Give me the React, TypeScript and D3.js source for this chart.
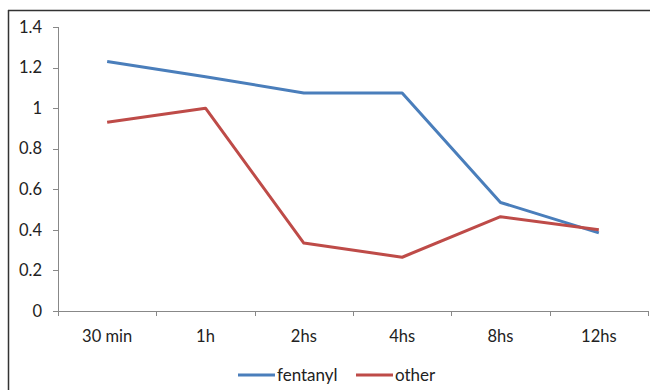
import React from "react";
import * as d3 from "d3";

const categories = ["30 min", "1h", "2hs", "4hs", "8hs", "12hs"];
const fentanyl = [1.23, 1.155, 1.075, 1.075, 0.535, 0.385];
const other = [0.93, 1.0, 0.335, 0.265, 0.465, 0.4];
const yTicks = [0, 0.2, 0.4, 0.6, 0.8, 1, 1.2, 1.4];

const series = [
  { name: "fentanyl", values: fentanyl, color: "#4A7EBB" },
  { name: "other", values: other, color: "#BE4B48" },
];

const W = 650;
const H = 390;
const plot = { left: 58, right: 648, top: 27, bottom: 311 };
const font = "Lato, 'Open Sans', sans-serif";
const fontSize = 16.5;

export default function App() {
  const x = d3
    .scaleBand<string>()
    .domain(categories)
    .range([plot.left, plot.right])
    .paddingInner(0)
    .paddingOuter(0);
  const y = d3.scaleLinear().domain([0, 1.4]).range([plot.bottom, plot.top]);

  const line = d3
    .line<number>()
    .x((_, i) => (x(categories[i]) as number) + x.bandwidth() / 2)
    .y((v) => y(v));

  const boundaries = categories.map((c) => x(c) as number).concat([plot.right]);

  const legendItems = [
    { name: "fentanyl", color: series[0].color, x0: 238 },
    { name: "other", color: series[1].color, x0: 356 },
  ];

  return (
    <svg
      width={W}
      height={H}
      style={{ position: "absolute", left: 0, top: 0, background: "#fff" }}
    >
      <rect x={0} y={0} width={W} height={H} fill="#fff" />
      {/* outer frame */}
      <line x1={8.5} y1={10} x2={8.5} y2={H} stroke="#333" strokeWidth={1.5} />
      <line x1={8} y1={10.5} x2={W} y2={10.5} stroke="#333" strokeWidth={1.5} />

      {/* y axis */}
      <line x1={plot.left + 0.5} y1={plot.top} x2={plot.left + 0.5} y2={plot.bottom} stroke="#888" />
      {yTicks.map((t) => (
        <g key={t}>
          <line
            x1={plot.left - 5}
            x2={plot.left}
            y1={Math.round(y(t)) + 0.5}
            y2={Math.round(y(t)) + 0.5}
            stroke="#888"
          />
          <text
            x={42}
            y={y(t)}
            dy="0.35em"
            textAnchor="end"
            fontFamily={font}
            fontSize={fontSize}
            fill="#222"
          >
            {t}
          </text>
        </g>
      ))}

      {/* x axis */}
      <line x1={plot.left} y1={plot.bottom + 0.5} x2={plot.right} y2={plot.bottom + 0.5} stroke="#888" />
      {boundaries.map((b, i) => (
        <line
          key={i}
          x1={Math.round(b) + 0.5}
          x2={Math.round(b) + 0.5}
          y1={plot.bottom}
          y2={plot.bottom + 5}
          stroke="#888"
        />
      ))}
      {categories.map((c) => (
        <text
          key={c}
          x={(x(c) as number) + x.bandwidth() / 2}
          y={336}
          dy="0.35em"
          textAnchor="middle"
          fontFamily={font}
          fontSize={fontSize}
          fill="#222"
        >
          {c}
        </text>
      ))}

      {/* series */}
      {series.map((s) => (
        <path
          key={s.name}
          d={line(s.values) as string}
          fill="none"
          stroke={s.color}
          strokeWidth={3}
          strokeLinejoin="round"
        />
      ))}

      {/* legend */}
      {legendItems.map((l) => (
        <g key={l.name}>
          <line x1={l.x0} x2={l.x0 + 37} y1={375} y2={375} stroke={l.color} strokeWidth={3} />
          <text
            x={l.x0 + 39}
            y={375}
            dy="0.35em"
            fontFamily={font}
            fontSize={17}
            fill="#222"
          >
            {l.name}
          </text>
        </g>
      ))}
    </svg>
  );
}
